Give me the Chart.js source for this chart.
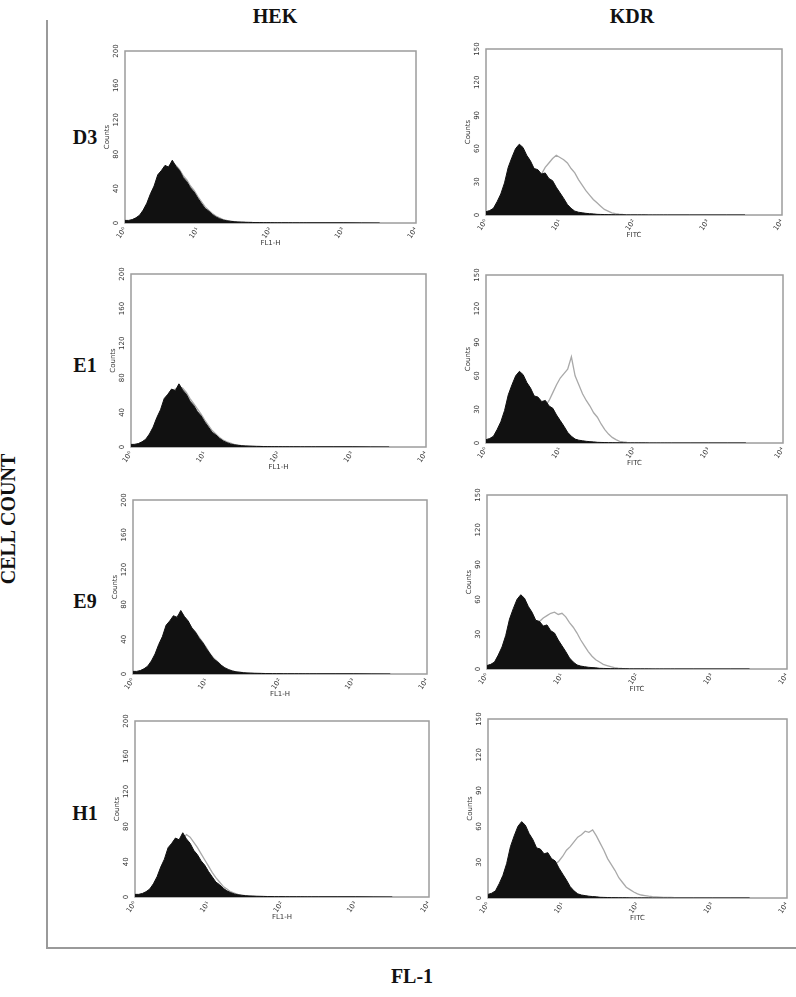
<!DOCTYPE html>
<html>
<head>
<meta charset="utf-8">
<script src="https://cdn.jsdelivr.net/npm/chart.js@4.4.1/dist/chart.umd.min.js"></script>
<style>
  body { margin: 0; background: #fff; width: 796px; height: 997px; position: relative; overflow: hidden; }
  canvas { position: absolute; }
  .lbl { position: absolute; font-family: 'Liberation Serif', serif; font-weight: bold; font-size: 20px; color: #111; white-space: nowrap; line-height: 1; }
  .rule { position: absolute; background: #9a9a9a; }
</style>
</head>
<body>
<div class="rule" style="left:46px;top:20px;width:2px;height:929px"></div>
<div class="rule" style="left:46px;top:947px;width:750px;height:2px"></div>
<script>
// Histogram channels (log10 of fluorescence)
const binExp = [
  0, 0.05, 0.1, 0.15, 0.2, 0.25, 0.3, 0.35, 0.4, 0.45,
  0.5, 0.55, 0.6, 0.65, 0.7, 0.75, 0.8, 0.85, 0.9, 0.95,
  1, 1.05, 1.1, 1.15, 1.2, 1.25, 1.3, 1.35, 1.4, 1.45,
  1.5, 1.55, 1.6, 1.65, 1.7, 1.75, 1.8, 1.85, 1.9, 1.95,
  2, 2.05, 2.1, 2.15, 2.2, 2.25, 2.3, 2.35, 2.4, 2.45,
  2.5, 2.75, 3, 3.25, 3.5
];

// Negative controls (black filled)
const hekControl = [
  3, 3, 4, 6, 9, 15, 23, 34, 43, 56,
  61, 67, 65, 73, 66, 61, 53, 48, 41, 36,
  29, 23, 17, 14, 10, 7, 5, 3.5, 2.5, 2,
  1.5, 1.2, 1, 0.8, 0.7, 0.6, 0.5, 0.5, 0.4, 0.4,
  0.4, 0.3, 0.3, 0.3, 0.3, 0.3, 0.2, 0.2, 0.2, 0.2,
  0.2, 0.2, 0.2, 0.1, 0
];
const kdrControl = [
  3, 4, 6, 12, 19, 29, 43, 52, 60, 64,
  61, 54, 49, 42, 41, 37, 38, 33, 31, 25,
  20, 15, 9.5, 6, 3.5, 2.5, 2, 1.5, 1.2, 1,
  0.6, 0.5, 0.4, 0.3, 0.3, 0.2, 0.2, 0.2, 0.1, 0.1,
  0.1, 0.1, 0.1, 0.1, 0, 0, 0, 0, 0, 0,
  0, 0, 0, 0, 0
];

// Antibody clones (grey outline)
const hekD3 = [
  2, 2, 3, 5, 8, 13, 21, 31, 41, 52,
  60, 64, 66, 70, 67, 62, 55, 50, 43, 38,
  31, 25, 19, 15, 11, 8, 6, 4, 3, 2.2,
  1.7, 1.3, 1.1, 0.9, 0.8, 0.6, 0.5, 0.5, 0.4, 0.4,
  0.3, 0.3, 0.3, 0.3, 0.3, 0.2, 0.2, 0.2, 0.2, 0.2,
  0.2, 0.1, 0.1, 0.1, 0
];
const hekE1 = [
  2, 3, 3, 5, 7, 12, 20, 31, 40, 51,
  60, 65, 67, 69, 68, 63, 56, 50, 44, 38,
  31, 25, 19, 15, 11, 8, 6, 4.5, 3, 2.2,
  1.6, 1.3, 1, 0.9, 0.7, 0.6, 0.5, 0.5, 0.4, 0.4,
  0.3, 0.3, 0.3, 0.3, 0.2, 0.2, 0.2, 0.2, 0.2, 0.2,
  0.2, 0.1, 0.1, 0.1, 0
];
const hekE9 = [
  2, 2, 3, 5, 8, 13, 21, 32, 41, 53,
  60, 64, 66, 70, 65, 60, 53, 48, 42, 36,
  30, 23, 18, 14, 10, 7, 5, 3.5, 2.5, 2,
  1.5, 1.2, 1, 0.8, 0.7, 0.6, 0.5, 0.4, 0.4, 0.4,
  0.3, 0.3, 0.3, 0.3, 0.2, 0.2, 0.2, 0.2, 0.2, 0.2,
  0.1, 0.1, 0.1, 0.1, 0
];
const hekH1 = [
  1, 1.5, 2, 3, 5, 8, 13, 19, 27, 36,
  45, 54, 61, 66, 71, 68, 62, 56, 49, 42,
  35, 28, 22, 17, 12, 9, 6, 4.5, 3, 2.2,
  1.6, 1.2, 1, 0.8, 0.7, 0.6, 0.5, 0.4, 0.4, 0.3,
  0.3, 0.3, 0.3, 0.2, 0.2, 0.2, 0.2, 0.2, 0.2, 0.2,
  0.1, 0.1, 0.1, 0.1, 0
];
const kdrD3 = [
  0.5, 1, 1.5, 2, 3, 4, 6, 8, 11, 14,
  17, 21, 25, 29, 33, 37, 43, 47, 51, 54,
  52, 50, 47, 42, 38, 32, 27, 22, 18, 14,
  11, 8, 5, 3.5, 2, 1.2, 0.8, 0.5, 0.4, 0.3,
  0.3, 0.2, 0.2, 0.2, 0.1, 0.1, 0.1, 0.1, 0.1, 0.1,
  0, 0, 0, 0, 0
];
const kdrE1 = [
  0.5, 1, 1.5, 2, 3, 4, 5, 7, 9, 11,
  14, 17, 20, 24, 27, 30, 33, 38, 45, 52,
  58, 62, 66, 77, 60, 52, 44, 38, 33, 27,
  23, 17, 12, 8, 5, 3, 1.5, 1, 0.6, 0.4,
  0.3, 0.3, 0.2, 0.2, 0.1, 0.1, 0.1, 0.1, 0.1, 0,
  0, 0, 0, 0, 0
];
const kdrE9 = [
  0.5, 1, 1.5, 2, 3, 5, 7, 9, 12, 15,
  19, 24, 30, 35, 41, 44, 46, 48, 49, 47,
  48, 45, 40, 36, 31, 25, 20, 15, 11, 8,
  6, 4, 3, 2, 1.2, 0.7, 0.5, 0.4, 0.3, 0.2,
  0.2, 0.2, 0.1, 0.1, 0.1, 0.1, 0.1, 0, 0, 0,
  0, 0, 0, 0, 0
];
const kdrH1 = [
  0.5, 1, 1.5, 2, 2.5, 3, 4, 5, 7, 9,
  11, 13, 15, 17, 19, 21, 23, 26, 28, 31,
  35, 40, 43, 47, 51, 53, 56, 55, 57, 52,
  46, 40, 33, 28, 23, 17, 13, 9, 7, 5,
  3.5, 2.5, 2, 1.5, 1.2, 1, 0.8, 0.6, 0.5, 0.4,
  0.3, 0.2, 0.1, 0.1, 0
];

const columnTitles = ['HEK', 'KDR'];
const rowLabels = ['D3', 'E1', 'E9', 'H1'];
const xTickValues = [1, 10, 100, 1000, 10000];
const xTickLabels = ['10\u2070', '10\u00b9', '10\u00b2', '10\u00b3', '10\u2074'];
const yMax = [200, 150];
const yStep = [40, 30];
const xTitles = ['FL1-H', 'FITC'];

const controls = [hekControl, kdrControl];
const tests = [[hekD3, hekE1, hekE9, hekH1], [kdrD3, kdrE1, kdrE9, kdrH1]];

// plot-area boxes [left, top, right, bottom] as laid out in the figure
const panelBoxes = [
  [[125, 51, 416, 223], [131, 274, 426, 447], [133, 500, 427, 674], [135, 721, 429, 897]],
  [[486, 49, 782, 215], [486, 275, 783, 443], [487, 495, 787, 669], [488, 719, 787, 898]]
];

const boxFrame = {
  id: 'boxFrame',
  beforeDatasetsDraw(chart) {
    const a = chart.chartArea, ctx = chart.ctx;
    ctx.save();
    ctx.strokeStyle = '#9c9c9c';
    ctx.lineWidth = 1.5;
    ctx.strokeRect(a.left, a.top, a.right - a.left, a.bottom - a.top);
    ctx.restore();
  }
};

const tickFont = { family: 'DejaVu Sans', size: 7 };
const yAxisW = 26, xAxisH = 26, padTop = 8, padRight = 10;

function zeroPad(scale) {
  scale.paddingLeft = scale.paddingRight = scale.paddingTop = scale.paddingBottom = 0;
}

function makePanel(col, row) {
  const [L, T, R, B] = panelBoxes[col][row];
  const cv = document.createElement('canvas');
  cv.width = R - L + yAxisW + padRight;
  cv.height = B - T + padTop + xAxisH;
  cv.style.left = (L - yAxisW) + 'px';
  cv.style.top = (T - padTop) + 'px';
  document.body.appendChild(cv);

  const pts = arr => binExp.map((e, i) => ({ x: Math.pow(10, e), y: arr[i] }));

  new Chart(cv, {
    type: 'line',
    data: {
      datasets: [
        { data: pts(controls[col]), borderColor: '#111', backgroundColor: '#111', borderWidth: 1, fill: 'origin', pointRadius: 0, tension: 0 },
        { data: pts(tests[col][row]), borderColor: '#a9a9a9', borderWidth: 1.3, fill: false, pointRadius: 0, tension: 0 }
      ]
    },
    options: {
      responsive: false,
      devicePixelRatio: 1,
      animation: false,
      layout: { padding: { top: padTop, right: padRight, left: 0, bottom: 0 } },
      plugins: { legend: { display: false }, tooltip: { enabled: false } },
      scales: {
        x: {
          type: 'logarithmic', min: 1, max: 10000,
          grid: { display: false, drawTicks: false }, border: { display: false },
          afterBuildTicks: s => { s.ticks = xTickValues.map(v => ({ value: v })); },
          afterFit: s => { s.height = xAxisH; zeroPad(s); },
          ticks: {
            autoSkip: false, minRotation: 55, maxRotation: 55, padding: 3,
            font: tickFont, color: '#333',
            callback: v => xTickLabels[xTickValues.indexOf(v)]
          },
          title: { display: true, text: xTitles[col], font: { family: 'DejaVu Sans', size: 7 }, color: '#333', padding: { top: 0, bottom: 2 } }
        },
        y: {
          min: 0, max: yMax[col],
          grid: { display: false, drawTicks: false }, border: { display: false },
          afterFit: s => { s.width = yAxisW; zeroPad(s); },
          ticks: {
            stepSize: yStep[col], minRotation: 90, maxRotation: 90, crossAlign: 'center', padding: 2,
            font: tickFont, color: '#333'
          },
          title: { display: true, text: 'Counts', font: { family: 'DejaVu Sans', size: 7 }, color: '#333', padding: { top: 4, bottom: 0 } }
        }
      }
    },
    plugins: [boxFrame]
  });
}

function addLabel(text, x, y, extra) {
  const d = document.createElement('div');
  d.className = 'lbl';
  d.textContent = text;
  d.style.left = x + 'px';
  d.style.top = y + 'px';
  d.style.transform = extra || 'translate(-50%, -50%)';
  document.body.appendChild(d);
}

for (let c = 0; c < 2; c++) {
  for (let r = 0; r < 4; r++) makePanel(c, r);
}

addLabel(columnTitles[0], 275, 16);
addLabel(columnTitles[1], 632, 16);
const rowY = [137, 365, 601, 813];
rowLabels.forEach((t, i) => addLabel(t, 85, rowY[i]));
addLabel('CELL COUNT', 8, 519, 'translate(-50%, -50%) rotate(-90deg)');
addLabel('FL-1', 412, 976);
</script>
</body>
</html>
